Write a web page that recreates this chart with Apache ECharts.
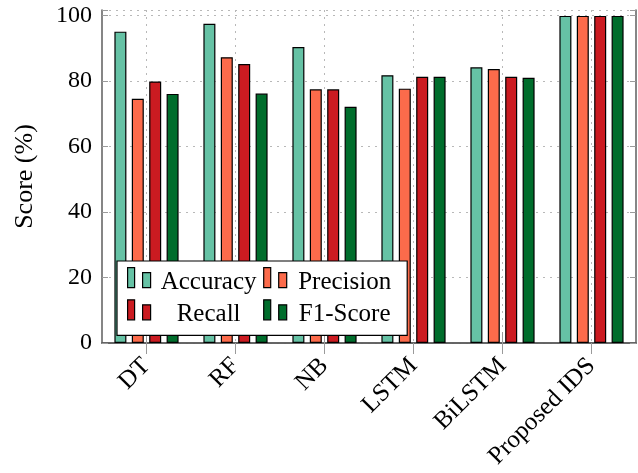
<!DOCTYPE html>
<html>
<head>
<meta charset="utf-8">
<script src="https://cdn.jsdelivr.net/npm/echarts@6/dist/echarts.min.js"></script>
<style>
  html, body { margin: 0; padding: 0; background: #fff; }
  #chart { width: 638px; height: 473px; }
</style>
</head>
<body>
<div id="chart"></div>
<script>
// Classifier comparison: score (%) per metric
const categories = ['DT', 'RF', 'NB', 'LSTM', 'BiLSTM', 'Proposed IDS'];
const accuracy  = [95.0, 97.4, 90.3, 81.7, 84.1, 99.8];
const precision = [74.5, 87.2, 77.4, 77.6, 83.6, 99.8];
const recall    = [79.8, 85.1, 77.4, 81.2, 81.2, 99.8];
const f1Score   = [76.0, 76.1, 72.1, 81.2, 80.9, 99.8];
const yTicks = [0, 20, 40, 60, 80, 100];

const FONT = '"Liberation Serif", "DejaVu Serif", serif';
const frame = { show: true, lineStyle: { color: '#5e5e5e', width: 1.5 } };
const grid = { show: true, lineStyle: { color: '#b8b8b8', width: 1, type: [2, 5] } };

// legend glyph: two bars of unequal height, with empty room below so the
// label baseline lines up with the bar bottoms
const legendIcon = 'path://M0,29 M0,0H7V20H0Z M15,5H23V20H15Z';

const chart = echarts.init(document.getElementById('chart'));

function barSeries(name, data, color) {
  return {
    name: name,
    type: 'bar',
    data: data,
    barWidth: 12,
    barGap: '45%',
    itemStyle: { color: color, borderColor: '#000', borderWidth: 1.2 }
  };
}

chart.setOption({
  animation: false,
  grid: { left: 102, right: 2, top: 10, bottom: 130 },
  legend: {
    left: 117,
    top: 261,
    width: 275,
    padding: [6, 10, 6, 10],
    itemGap: 2,
    itemWidth: 24,
    itemHeight: 29,
    icon: legendIcon,
    itemStyle: { borderColor: '#000', borderWidth: 1.2 },
    backgroundColor: '#fff',
    borderColor: '#000',
    borderWidth: 1.2,
    formatter: '{t|{name}}',
    textStyle: {
      fontFamily: FONT, fontSize: 25, color: '#000',
      rich: {
        t: { width: 105, align: 'center', fontFamily: FONT, fontSize: 25, lineHeight: 25, color: '#000' }
      }
    },
    selectedMode: false
  },
  xAxis: [
    {
      type: 'category',
      data: categories,
      position: 'bottom',
      axisLine: frame,
      axisTick: { show: true, alignWithLabel: true, length: 11, lineStyle: { color: '#9a9a9a', width: 1 } },
      splitLine: Object.assign({ alignWithLabel: true }, grid),
      axisLabel: { rotate: 45, margin: 19, fontFamily: FONT, fontSize: 25, color: '#000', interval: 0 }
    },
    {
      type: 'category',
      data: categories,
      position: 'top',
      axisLine: frame,
      axisTick: { show: true, alignWithLabel: true, length: 11, lineStyle: { color: '#9a9a9a', width: 1 } },
      axisLabel: { show: false },
      splitLine: { show: false }
    }
  ],
  yAxis: [
    {
      type: 'value',
      min: 0,
      max: 101.6,
      interval: 20,
      name: 'Score (%)',
      nameLocation: 'middle',
      nameGap: 64,
      nameTextStyle: { fontFamily: FONT, fontSize: 26, color: '#000' },
      axisLine: frame,
      axisTick: { show: true, inside: true, length: 6, lineStyle: { color: '#9a9a9a' } },
      splitLine: grid,
      axisLabel: {
        margin: 10, fontFamily: FONT, fontSize: 24, color: '#000',
        formatter: v => (yTicks.indexOf(v) >= 0 ? String(v) : '')
      }
    },
    {
      type: 'value',
      min: 0,
      max: 101.6,
      interval: 20,
      position: 'right',
      axisLine: frame,
      axisTick: { show: true, inside: true, length: 6, lineStyle: { color: '#9a9a9a' } },
      axisLabel: { show: false },
      splitLine: { show: false }
    }
  ],
  series: [
    barSeries('Accuracy', accuracy, '#66c2a5'),
    barSeries('Precision', precision, '#fc6b4b'),
    barSeries('Recall', recall, '#cb1b21'),
    barSeries('F1-Score', f1Score, '#006d2c')
  ]
});
</script>
</body>
</html>
